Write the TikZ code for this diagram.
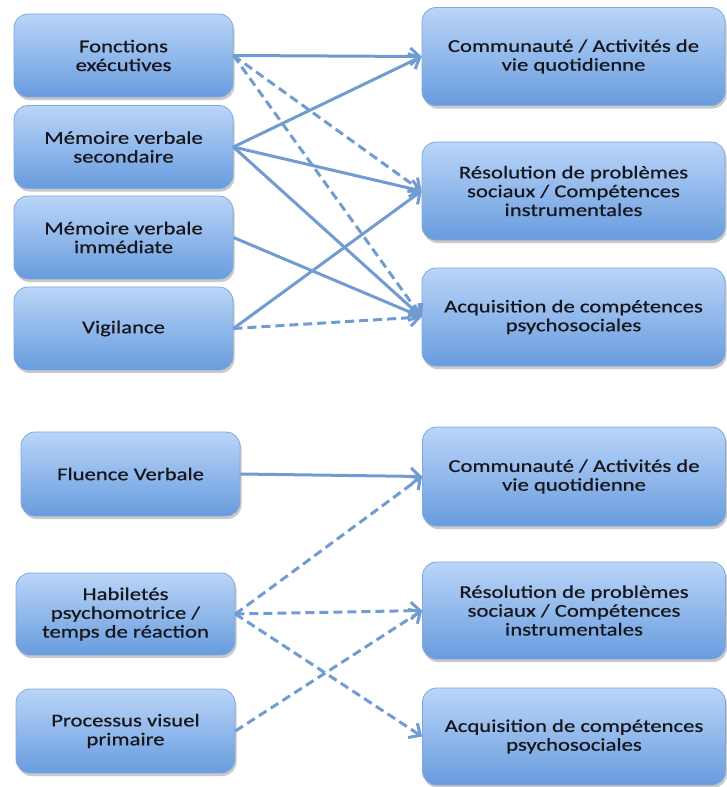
\documentclass[tikz,border=0pt]{standalone}
\usepackage{fontspec}
\setmainfont{Carlito}[FakeStretch=1.26,FakeBold=0.6]
\usetikzlibrary{arrows.meta,shadows}
\definecolor{boxtop}{RGB}{186,213,248}
\definecolor{boxbot}{RGB}{104,156,222}
\definecolor{boxedge}{RGB}{128,168,220}
\definecolor{linkcol}{RGB}{112,156,210}
\definecolor{txtcol}{RGB}{22,22,28}
\tikzset{
  box/.style={rectangle, rounded corners=14pt, draw=boxedge, line width=0.8pt,
    top color=boxtop, bottom color=boxbot, align=center, text=txtcol,
    font=\fontsize{18}{18.8}\selectfont, inner sep=0pt,
    drop shadow={opacity=0.35, shadow xshift=1.5pt, shadow yshift=-3pt, fill=black!60}},
  lbox/.style={box, minimum width=219pt, minimum height=83pt},
  rbox/.style={box, minimum width=303pt, minimum height=98pt},
  link/.style={draw=linkcol, line width=3pt, -{Straight Barb[length=9pt,width=17pt]}},
  dlink/.style={link, dash pattern=on 9pt off 5pt},
}
\begin{document}
\begin{tikzpicture}[x=1pt,y=-1pt]
\useasboundingbox (0,0) rectangle (726,787);
% top group
\node[lbox] (F1) at (123.5,55.5) {Fonctions\\exécutives};
\node[lbox] (F2) at (123.5,147) {Mémoire verbale\\secondaire};
\node[lbox] (F3) at (123.5,237.5) {Mémoire verbale\\immédiate};
\node[lbox] (F4) at (123.5,328.5) {Vigilance};
\node[rbox] (R1) at (573.5,56.5) {Communauté / Activités de\\vie quotidienne};
\node[rbox] (R2) at (573.5,191) {Résolution de problèmes\\sociaux / Compétences\\instrumentales};
\node[rbox] (R3) at (573.5,317) {Acquisition de compétences\\psychosociales};
% bottom group
\node[lbox, minimum height=84pt] (B1) at (130.5,474) {Fluence Verbale};
\node[lbox, minimum height=82pt] (B2) at (125.5,614) {Habiletés\\psychomotrice /\\temps de réaction};
\node[lbox, minimum height=84pt] (B3) at (125.5,731) {Processus visuel\\primaire};
\node[rbox, minimum height=99pt] (S1) at (574,476.5) {Communauté / Activités de\\vie quotidienne};
\node[rbox, minimum height=97pt] (S2) at (574,610.5) {Résolution de problèmes\\sociaux / Compétences\\instrumentales};
\node[rbox, minimum height=97pt] (S3) at (574,736.5) {Acquisition de compétences\\psychosociales};
% top connectors
\draw[link] (F1.east) -- (R1.west);
\draw[dlink] (F1.east) -- (R2.west);
\draw[dlink] (F1.east) -- (R3.west);
\draw[link] (F2.east) -- (R1.west);
\draw[link] (F2.east) -- (R2.west);
\draw[link] (F2.east) -- (R3.west);
\draw[link] (F3.east) -- (R3.west);
\draw[link] (F4.east) -- (R2.west);
\draw[dlink] (F4.east) -- (R3.west);
% bottom connectors
\draw[link] (B1.east) -- (S1.west);
\draw[dlink] (B2.east) -- (S1.west);
\draw[dlink] (B2.east) -- (S2.west);
\draw[dlink] (B2.east) -- (S3.west);
\draw[dlink] (B3.east) -- (S2.west);
\end{tikzpicture}
\end{document}
